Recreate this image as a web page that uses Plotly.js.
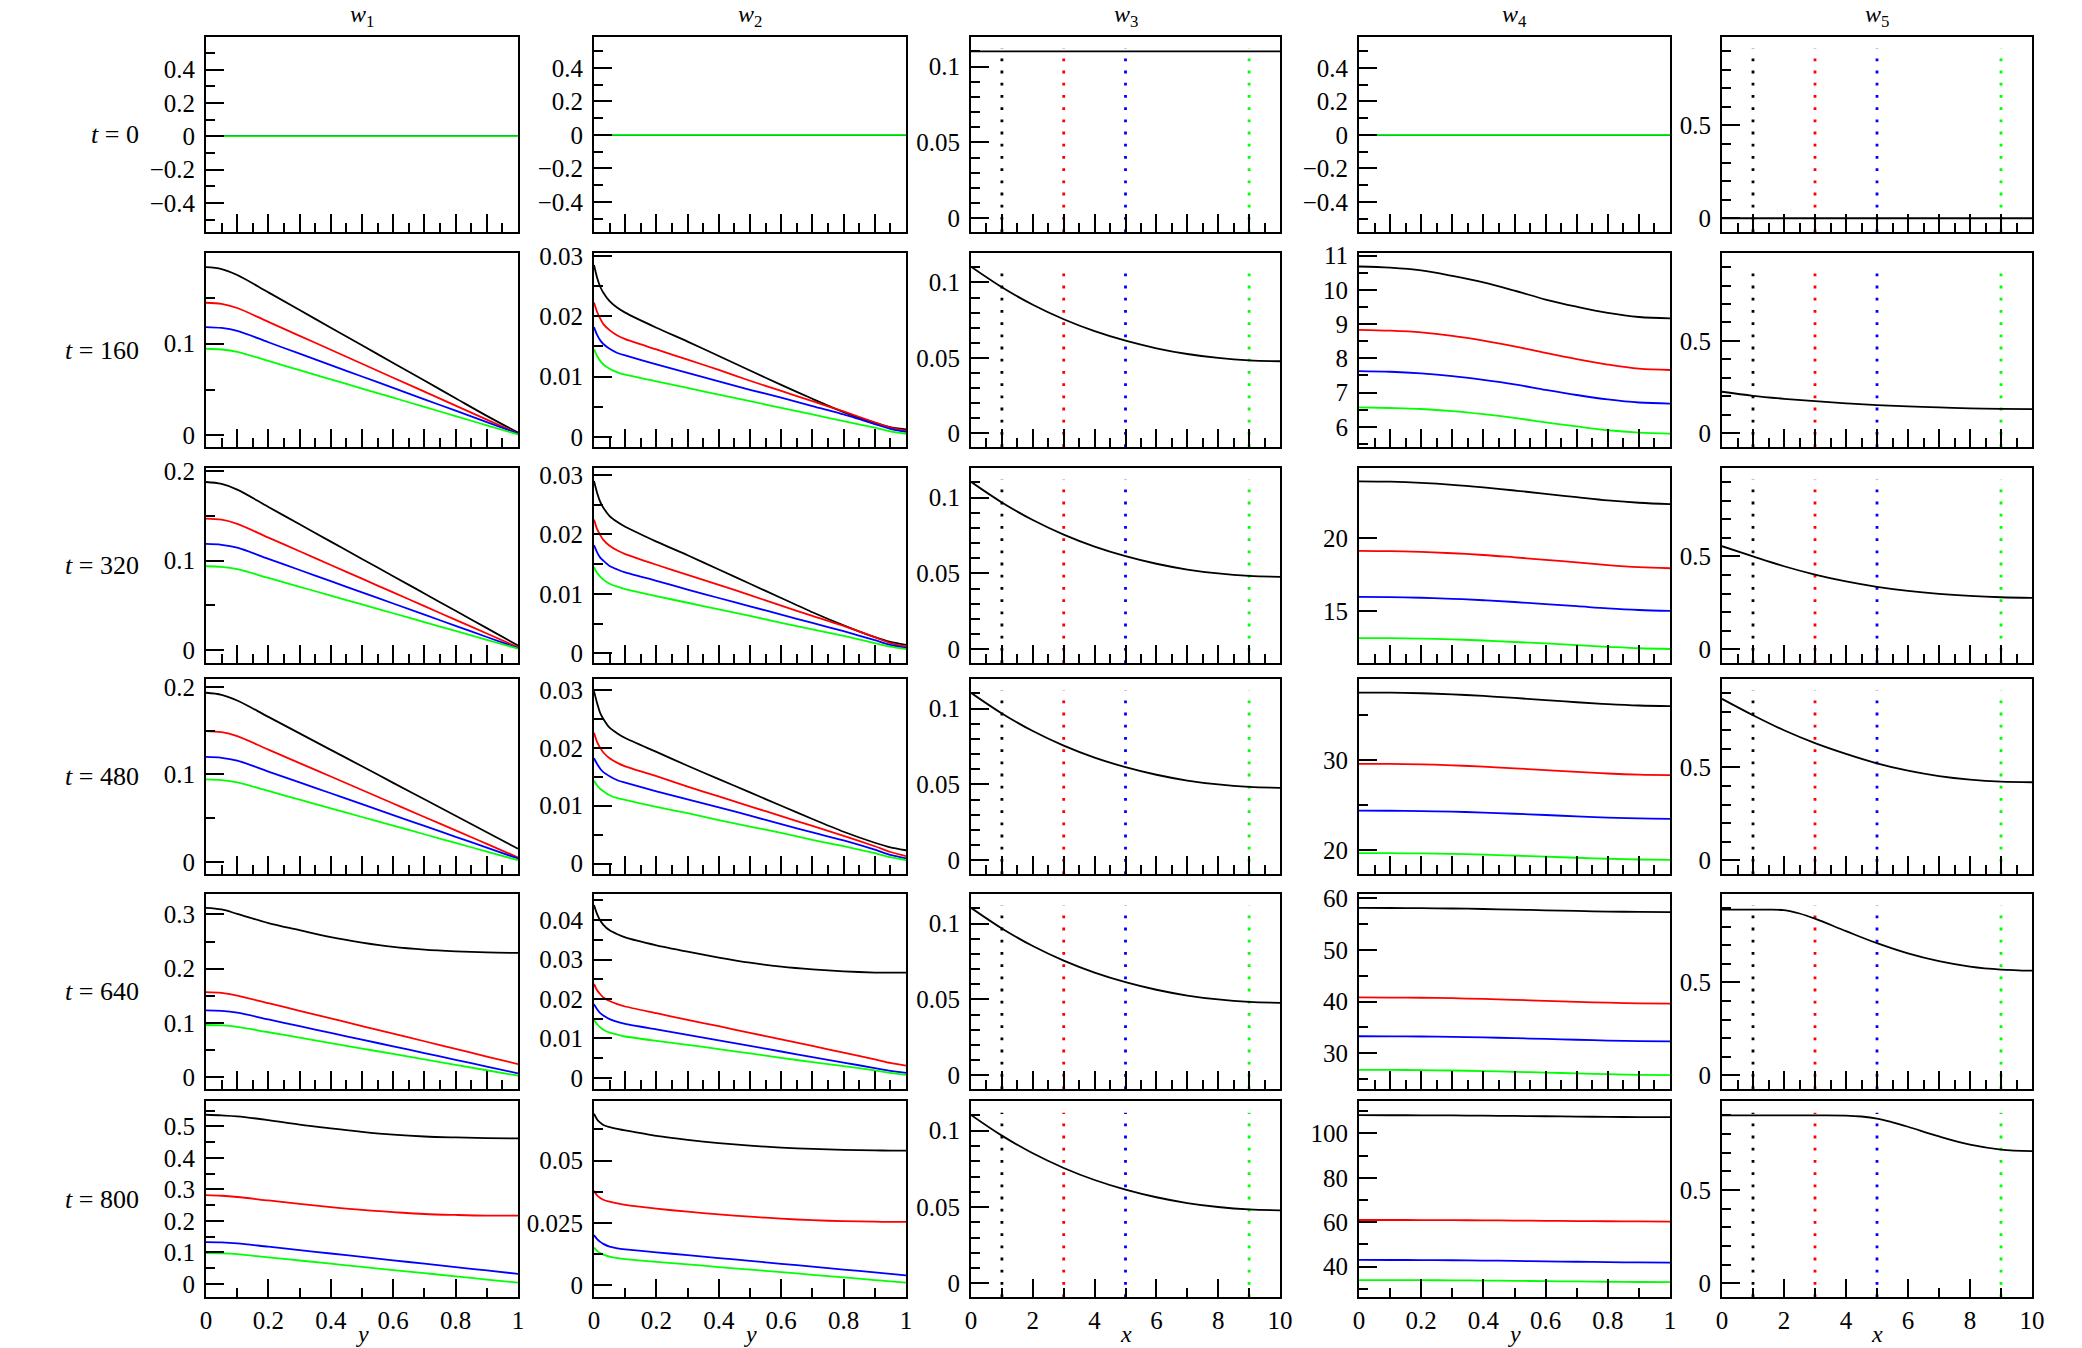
<!DOCTYPE html>
<html><head><meta charset="utf-8">
<script src="https://cdn.plot.ly/plotly-3.0.1.min.js"></script>
<style>html,body{margin:0;padding:0;background:#fff}#chart{width:2082px;height:1348px}</style>
</head><body><div id="chart"></div>
<script>
// ---------------- DATA ----------------
const colTitles = ['<i>w</i><sub>1</sub>','<i>w</i><sub>2</sub>','<i>w</i><sub>3</sub>','<i>w</i><sub>4</sub>','<i>w</i><sub>5</sub>'];
const rowTimes = ['0','160','320','480','640','800'];
const xTitles = ['<i>y</i>','<i>y</i>','<i>x</i>','<i>y</i>','<i>x</i>'];
const seriesColors = ['#000000','#ff0000','#0000ff','#00ff00'];
const markerX = [1, 3, 5, 9];

const yEnds = [0, 1];
const xEnds = [0, 10];
const yGridW1 = [0, 0.05, 0.1, 0.2, 0.3, 0.4, 0.5, 0.6, 0.7, 0.8, 0.9, 1];
const yGridW2 = [0, 0.01, 0.02, 0.03, 0.05, 0.075, 0.1, 0.2, 0.3, 0.4, 0.5, 0.6, 0.7, 0.8, 0.9, 0.95, 1];
const yGridW4 = [0, 0.1, 0.2, 0.3, 0.4, 0.5, 0.6, 0.7, 0.8, 0.9, 1];
const xGridW3 = [0, 1, 2, 3, 4, 5, 6, 7, 8, 9, 10];
const xGridW5 = [0, 1, 2, 3, 4, 5, 6, 7, 8, 9, 10];
const xGridW5t640 = [0, 1, 1.5, 2, 2.5, 3, 4, 5, 6, 7, 8, 9, 10];
const xGridW5t800 = [0, 1, 2, 3, 4, 4.5, 5, 5.5, 6, 7, 8, 9, 10];

// w1 (black, red, blue, green)
const w1_t0 = [[0,0],[0,0],[0,0],[0,0]];
const w1_t160 = [
 [0.1836,0.1815,0.1750,0.1560,0.1368,0.1175,0.0983,0.0790,0.0598,0.0405,0.0213,0.0030],
 [0.1447,0.1435,0.1390,0.1238,0.1086,0.0934,0.0782,0.0629,0.0477,0.0325,0.0172,0.0020],
 [0.1182,0.1172,0.1140,0.1016,0.0891,0.0767,0.0642,0.0518,0.0393,0.0269,0.0144,0.0020],
 [0.0945,0.0937,0.0912,0.0812,0.0711,0.0611,0.0511,0.0411,0.0311,0.0210,0.0110,0.0010]];
const w1_t320 = [
 [0.1880,0.1858,0.1795,0.1601,0.1407,0.1213,0.1019,0.0826,0.0632,0.0438,0.0244,0.0050],
 [0.1470,0.1458,0.1412,0.1258,0.1105,0.0951,0.0798,0.0644,0.0491,0.0337,0.0184,0.0030],
 [0.1187,0.1177,0.1145,0.1020,0.0895,0.0770,0.0645,0.0520,0.0395,0.0270,0.0145,0.0020],
 [0.0937,0.0930,0.0905,0.0806,0.0707,0.0608,0.0510,0.0411,0.0312,0.0213,0.0114,0.0015]];
const w1_t480 = [
 [0.1933,0.1910,0.1845,0.1657,0.1469,0.1281,0.1093,0.0904,0.0716,0.0528,0.0340,0.0152],
 [0.1495,0.1483,0.1437,0.1283,0.1130,0.0976,0.0822,0.0668,0.0514,0.0361,0.0207,0.0053],
 [0.1200,0.1190,0.1157,0.1033,0.0909,0.0785,0.0661,0.0536,0.0412,0.0288,0.0164,0.0040],
 [0.0943,0.0935,0.0910,0.0811,0.0712,0.0613,0.0514,0.0415,0.0317,0.0218,0.0119,0.0020]];
const w1_t640 = [
 [0.312,0.309,0.301,0.284,0.271,0.258,0.248,0.240,0.235,0.232,0.230,0.229],
 [0.1570,0.1555,0.1505,0.1365,0.1225,0.1085,0.0944,0.0804,0.0664,0.0524,0.0383,0.0243],
 [0.1234,0.1224,0.1190,0.1066,0.0942,0.0818,0.0694,0.0570,0.0446,0.0322,0.0198,0.0074],
 [0.0963,0.0955,0.0930,0.0830,0.0730,0.0630,0.0530,0.0430,0.0330,0.0230,0.0130,0.0030]];
const w1_t800 = [
 [0.537,0.535,0.532,0.520,0.506,0.494,0.483,0.474,0.468,0.465,0.463,0.462],
 [0.282,0.280,0.276,0.265,0.254,0.244,0.235,0.228,0.222,0.219,0.217,0.217],
 [0.1327,0.1320,0.1290,0.1182,0.1074,0.0967,0.0859,0.0751,0.0643,0.0536,0.0428,0.0320],
 [0.0977,0.0970,0.0945,0.0844,0.0744,0.0643,0.0542,0.0442,0.0341,0.0241,0.0140,0.0040]];

// w2
const w2_t0 = [[0,0],[0,0],[0,0],[0,0]];
const w2_t160 = [
 [0.0285,0.0264,0.0249,0.0239,0.0225,0.0214,0.0206,0.0181,0.0158,0.0134,0.0110,0.0086,0.0063,0.0041,0.0023,0.0016,0.0012],
 [0.0223,0.0207,0.0196,0.0187,0.0177,0.0168,0.0162,0.0145,0.0128,0.0111,0.0093,0.0076,0.0059,0.0042,0.0024,0.0015,0.0010],
 [0.0182,0.0169,0.0160,0.0154,0.0146,0.0139,0.0135,0.0120,0.0106,0.0092,0.0078,0.0065,0.0051,0.0037,0.0021,0.0013,0.0008],
 [0.0145,0.0134,0.0126,0.0120,0.0113,0.0107,0.0103,0.0092,0.0081,0.0070,0.0059,0.0048,0.0037,0.0026,0.0015,0.0009,0.0005]];
const w2_t320 = [
 [0.0290,0.0270,0.0255,0.0245,0.0231,0.0221,0.0213,0.0188,0.0165,0.0141,0.0117,0.0093,0.0069,0.0047,0.0027,0.0019,0.0014],
 [0.0225,0.0209,0.0199,0.0191,0.0181,0.0173,0.0167,0.0149,0.0132,0.0115,0.0098,0.0080,0.0063,0.0046,0.0027,0.0017,0.0011],
 [0.0182,0.0170,0.0161,0.0156,0.0147,0.0141,0.0136,0.0122,0.0107,0.0093,0.0079,0.0065,0.0051,0.0037,0.0022,0.0014,0.0009],
 [0.0145,0.0135,0.0129,0.0124,0.0117,0.0112,0.0108,0.0096,0.0085,0.0074,0.0063,0.0051,0.0040,0.0029,0.0017,0.0011,0.0007]];
const w2_t480 = [
 [0.0298,0.0277,0.0260,0.0250,0.0235,0.0225,0.0217,0.0193,0.0169,0.0146,0.0123,0.0100,0.0077,0.0055,0.0036,0.0028,0.0023],
 [0.0226,0.0210,0.0200,0.0192,0.0182,0.0174,0.0168,0.0151,0.0133,0.0116,0.0099,0.0082,0.0065,0.0048,0.0030,0.0020,0.0013],
 [0.0182,0.0172,0.0164,0.0158,0.0151,0.0144,0.0140,0.0125,0.0111,0.0097,0.0083,0.0068,0.0054,0.0040,0.0024,0.0015,0.0009],
 [0.0143,0.0135,0.0129,0.0125,0.0118,0.0113,0.0110,0.0098,0.0087,0.0075,0.0064,0.0053,0.0041,0.0030,0.0018,0.0011,0.0006]];
const w2_t640 = [
 [0.0438,0.0415,0.0399,0.0388,0.0374,0.0364,0.0356,0.0336,0.0320,0.0305,0.0292,0.0282,0.0275,0.0270,0.0267,0.0267,0.0267],
 [0.0238,0.0222,0.0212,0.0204,0.0195,0.0187,0.0181,0.0164,0.0147,0.0131,0.0114,0.0098,0.0081,0.0064,0.0047,0.0038,0.0031],
 [0.0187,0.0174,0.0164,0.0158,0.0149,0.0142,0.0137,0.0123,0.0109,0.0095,0.0081,0.0067,0.0053,0.0039,0.0025,0.0018,0.0013],
 [0.0147,0.0136,0.0128,0.0122,0.0115,0.0110,0.0105,0.0094,0.0084,0.0073,0.0062,0.0051,0.0040,0.0030,0.0019,0.0013,0.0008]];
const w2_t800 = [
 [0.0688,0.0665,0.0652,0.0643,0.0634,0.0627,0.0621,0.0599,0.0583,0.0570,0.0560,0.0552,0.0547,0.0543,0.0541,0.0540,0.0540],
 [0.0379,0.0360,0.0350,0.0343,0.0335,0.0328,0.0322,0.0307,0.0295,0.0284,0.0275,0.0267,0.0261,0.0257,0.0255,0.0254,0.0254],
 [0.0201,0.0185,0.0174,0.0166,0.0155,0.0148,0.0144,0.0132,0.0121,0.0109,0.0098,0.0086,0.0075,0.0063,0.0052,0.0046,0.0040],
 [0.0151,0.0138,0.0129,0.0123,0.0115,0.0109,0.0105,0.0094,0.0084,0.0073,0.0063,0.0053,0.0042,0.0032,0.0021,0.0016,0.0011]];

// w3 (single black curve)
const w3_t0 = [0.110, 0.110];
const w3_t160 = [0.1104,0.0968,0.0852,0.0756,0.0677,0.0614,0.0564,0.0526,0.0500,0.0484,0.0478];
const w3_t320 = [0.1104,0.0968,0.0852,0.0756,0.0677,0.0614,0.0564,0.0526,0.0500,0.0484,0.0478];
const w3_t480 = [0.1104,0.0968,0.0852,0.0756,0.0677,0.0614,0.0564,0.0526,0.0500,0.0484,0.0478];
const w3_t640 = [0.1104,0.0968,0.0852,0.0756,0.0677,0.0614,0.0564,0.0526,0.0500,0.0484,0.0478];
const w3_t800 = [0.1104,0.0968,0.0852,0.0756,0.0677,0.0614,0.0564,0.0526,0.0500,0.0484,0.0478];

// w4
const w4_t0 = [[0,0],[0,0],[0,0],[0,0]];
const w4_t160 = [
 [10.685,10.65,10.57,10.41,10.22,9.98,9.72,9.51,9.33,9.21,9.17],
 [8.835,8.81,8.76,8.66,8.52,8.35,8.16,7.98,7.82,7.70,7.66],
 [7.63,7.61,7.56,7.48,7.37,7.24,7.08,6.93,6.80,6.71,6.68],
 [6.57,6.55,6.52,6.46,6.37,6.26,6.13,6.01,5.90,5.83,5.80]];
const w4_t320 = [
 [23.89,23.86,23.78,23.65,23.47,23.26,23.03,22.80,22.58,22.42,22.33],
 [19.12,19.10,19.05,18.96,18.84,18.68,18.51,18.33,18.15,18.01,17.93],
 [15.97,15.95,15.91,15.84,15.74,15.62,15.47,15.33,15.18,15.07,15.01],
 [13.15,13.14,13.11,13.06,12.98,12.88,12.78,12.66,12.55,12.45,12.40]];
const w4_t480 = [
 [37.50,37.48,37.42,37.30,37.12,36.90,36.66,36.42,36.21,36.06,36.00],
 [29.60,29.58,29.53,29.43,29.28,29.10,28.90,28.70,28.52,28.40,28.35],
 [24.40,24.39,24.35,24.29,24.19,24.06,23.92,23.77,23.64,23.54,23.50],
 [19.70,19.69,19.66,19.61,19.53,19.42,19.30,19.18,19.07,18.99,18.95]];
const w4_t640 = [
 [58.10,58.09,58.06,58.00,57.90,57.78,57.65,57.52,57.41,57.33,57.30],
 [40.80,40.78,40.74,40.65,40.51,40.34,40.15,39.96,39.79,39.66,39.60],
 [33.30,33.29,33.25,33.18,33.07,32.93,32.78,32.62,32.47,32.35,32.30],
 [26.80,26.79,26.75,26.68,26.57,26.43,26.27,26.12,25.97,25.85,25.80]];
const w4_t800 = [
 [108.20,108.19,108.16,108.10,108.00,107.87,107.72,107.57,107.44,107.34,107.30],
 [61.00,60.99,60.97,60.92,60.84,60.74,60.63,60.52,60.42,60.34,60.30],
 [43.00,42.98,42.94,42.85,42.72,42.56,42.38,42.19,42.02,41.88,41.80],
 [33.90,33.89,33.86,33.80,33.70,33.58,33.44,33.30,33.16,33.06,33.00]];

// w5 (single black curve)
const w5_t0 = [0, 0];
const w5_t160 = [0.225,0.203,0.187,0.174,0.162,0.153,0.146,0.140,0.135,0.132,0.131];
const w5_t320 = [0.555,0.500,0.447,0.402,0.365,0.336,0.314,0.298,0.287,0.280,0.277];
const w5_t480 = [0.869,0.781,0.700,0.631,0.573,0.522,0.482,0.453,0.434,0.423,0.420];
const w5_t640 = [0.892,0.892,0.892,0.889,0.871,0.843,0.776,0.711,0.656,0.614,0.585,0.569,0.563];
const w5_t800 = [0.899,0.899,0.899,0.899,0.898,0.893,0.882,0.862,0.838,0.786,0.742,0.716,0.707];

// ---------------- LAYOUT CONFIG ----------------
const W = 2082, H = 1348;
const colPx = [[206,518],[594,906],[971,1280],[1359,1670],[1722,2032]];
const rowPx = [[37,232],[253,447],[468,663],[679,874],[894,1089],[1101,1297]];
const yRanges = [
 [[-0.575,0.595],[-0.58,0.584],[-0.009,0.1195],[-0.58,0.584],[-0.074,0.976]],
 [[-0.0127,0.199],[-0.0017,0.0305],[-0.009,0.1195],[5.41,11.08],[-0.074,0.976]],
 [[-0.0146,0.2037],[-0.00165,0.0312],[-0.009,0.1195],[11.44,24.8],[-0.074,0.976]],
 [[-0.0137,0.209],[-0.0018,0.0319],[-0.009,0.1195],[17.38,39.0],[-0.074,0.976]],
 [[-0.0215,0.3375],[-0.0028,0.0466],[-0.009,0.1195],[23.1,60.8],[-0.074,0.976]],
 [[-0.0414,0.5807],[-0.0047,0.0739],[-0.009,0.1195],[26.3,114.6],[-0.074,0.976]]];
const yTicks = [
 [[0.2,0.1],[0.2,0.1],[0.05,0.01],[0.2,0.1],[0.5,0.1]],
 [[0.1,0.05],[0.01,0.005],[0.05,0.01],[1,0.5],[0.5,0.1]],
 [[0.1,0.05],[0.01,0.005],[0.05,0.01],[5,null],[0.5,0.1]],
 [[0.1,0.05],[0.01,0.005],[0.05,0.01],[10,5],[0.5,0.1]],
 [[0.1,0.05],[0.01,0.005],[0.05,0.01],[10,5],[0.5,0.1]],
 [[0.1,0.05],[0.025,0.0125],[0.05,0.01],[20,10],[0.5,0.1]]];

const panelData = [
 [{x:yEnds,s:w1_t0},{x:yEnds,s:w2_t0},{x:xEnds,s:[w3_t0]},{x:yEnds,s:w4_t0},{x:xEnds,s:[w5_t0]}],
 [{x:yGridW1,s:w1_t160},{x:yGridW2,s:w2_t160},{x:xGridW3,s:[w3_t160]},{x:yGridW4,s:w4_t160},{x:xGridW5,s:[w5_t160]}],
 [{x:yGridW1,s:w1_t320},{x:yGridW2,s:w2_t320},{x:xGridW3,s:[w3_t320]},{x:yGridW4,s:w4_t320},{x:xGridW5,s:[w5_t320]}],
 [{x:yGridW1,s:w1_t480},{x:yGridW2,s:w2_t480},{x:xGridW3,s:[w3_t480]},{x:yGridW4,s:w4_t480},{x:xGridW5,s:[w5_t480]}],
 [{x:yGridW1,s:w1_t640},{x:yGridW2,s:w2_t640},{x:xGridW3,s:[w3_t640]},{x:yGridW4,s:w4_t640},{x:xGridW5t640,s:[w5_t640]}],
 [{x:yGridW1,s:w1_t800},{x:yGridW2,s:w2_t800},{x:xGridW3,s:[w3_t800]},{x:yGridW4,s:w4_t800},{x:xGridW5t800,s:[w5_t800]}]];

const FONT = 'Liberation Serif, Times New Roman, serif';
const tickFont = {family: FONT, size: 25, color: '#000'};
const labelFont = {family: FONT, size: 26, color: '#000'};
const titleFont = {family: FONT, size: 24, color: '#000'};

const traces = [];
const layout = {
  width: W, height: H, margin: {l:0, r:0, t:0, b:0},
  paper_bgcolor: '#fff', plot_bgcolor: '#fff', showlegend: false,
  annotations: [], shapes: []
};

for (let r = 0; r < 6; r++) {
  for (let c = 0; c < 5; c++) {
    const k = r * 5 + c + 1;
    const sfx = k === 1 ? '' : String(k);
    const isX = (c === 2 || c === 4);
    const last = (r === 5);
    const xMaj = isX ? (last ? 2 : 1) : (last ? 0.2 : 0.1);
    const xMin = isX ? (last ? 1 : 0.5) : (last ? 0.1 : 0.05);
    layout['xaxis' + sfx] = {
      domain: [colPx[c][0] / W, colPx[c][1] / W],
      range: isX ? [0, 10] : [0, 1],
      anchor: 'y' + sfx,
      showline: true, mirror: true, linecolor: '#000', linewidth: 2,
      ticks: 'inside', ticklen: 18, tickwidth: 2, tickcolor: '#000',
      tick0: 0, dtick: xMaj,
      minor: {ticks: 'inside', ticklen: 9, tickwidth: 2, tickcolor: '#000', tick0: 0, dtick: xMin, showgrid: false},
      showticklabels: last, tickfont: tickFont, ticklabelstandoff: 0,
      showgrid: false, zeroline: false, fixedrange: true
    };
    const [yMaj, yMin] = yTicks[r][c];
    const ya = {
      domain: [1 - rowPx[r][1] / H, 1 - rowPx[r][0] / H],
      range: yRanges[r][c],
      anchor: 'x' + sfx,
      showline: true, mirror: true, linecolor: '#000', linewidth: 2,
      ticks: 'inside', ticklen: 18, tickwidth: 2, tickcolor: '#000',
      tick0: 0, dtick: yMaj,
      showticklabels: true, tickfont: tickFont, ticklabelstandoff: 4,
      showgrid: false, zeroline: false, fixedrange: true
    };
    if (yMin) ya.minor = {ticks: 'inside', ticklen: 9, tickwidth: 2, tickcolor: '#000', tick0: 0, dtick: yMin, showgrid: false};
    layout['yaxis' + sfx] = ya;

    // vertical dotted markers for w3 and w5
    if (isX) {
      markerX.forEach((xv, i) => {
        layout.shapes.push({type: 'line', xref: 'x' + sfx, yref: 'y' + sfx + ' domain',
          x0: xv, x1: xv, y0: 0, y1: 0.94, layer: 'below',
          line: {color: seriesColors[i], width: 2.8, dash: '2.8px,9.4px'}});
      });
    }

    const pd = panelData[r][c];
    pd.s.forEach((ys, i) => {
      traces.push({
        type: 'scatter', mode: 'lines', x: pd.x, y: ys,
        xaxis: 'x' + sfx, yaxis: 'y' + sfx,
        line: {color: seriesColors[i], width: 1.8, shape: 'spline', smoothing: c === 1 ? 0.6 : 1},
        hoverinfo: 'skip', showlegend: false
      });
    });
  }
}

// column titles and x-axis titles
for (let c = 0; c < 5; c++) {
  layout.annotations.push({xref: 'paper', yref: 'paper', x: (colPx[c][0] + colPx[c][1]) / 2 / W, y: 1,
    xanchor: 'center', yanchor: 'top', borderpad: 0, showarrow: false, text: colTitles[c], font: titleFont});
  layout.annotations.push({xref: 'paper', yref: 'paper', x: (colPx[c][0] + colPx[c][1]) / 2 / W, y: 0,
    xanchor: 'center', yanchor: 'bottom', borderpad: 0, showarrow: false, text: xTitles[c], font: titleFont});
}
// row labels
for (let r = 0; r < 6; r++) {
  layout.annotations.push({xref: 'paper', yref: 'paper', x: 141 / W, y: 1 - (rowPx[r][0] + rowPx[r][1]) / 2 / H,
    xanchor: 'right', yanchor: 'middle', showarrow: false, text: '<i>t</i> = ' + rowTimes[r], font: labelFont});
}

Plotly.newPlot('chart', traces, layout, {staticPlot: true, displayModeBar: false});
</script></body></html>
